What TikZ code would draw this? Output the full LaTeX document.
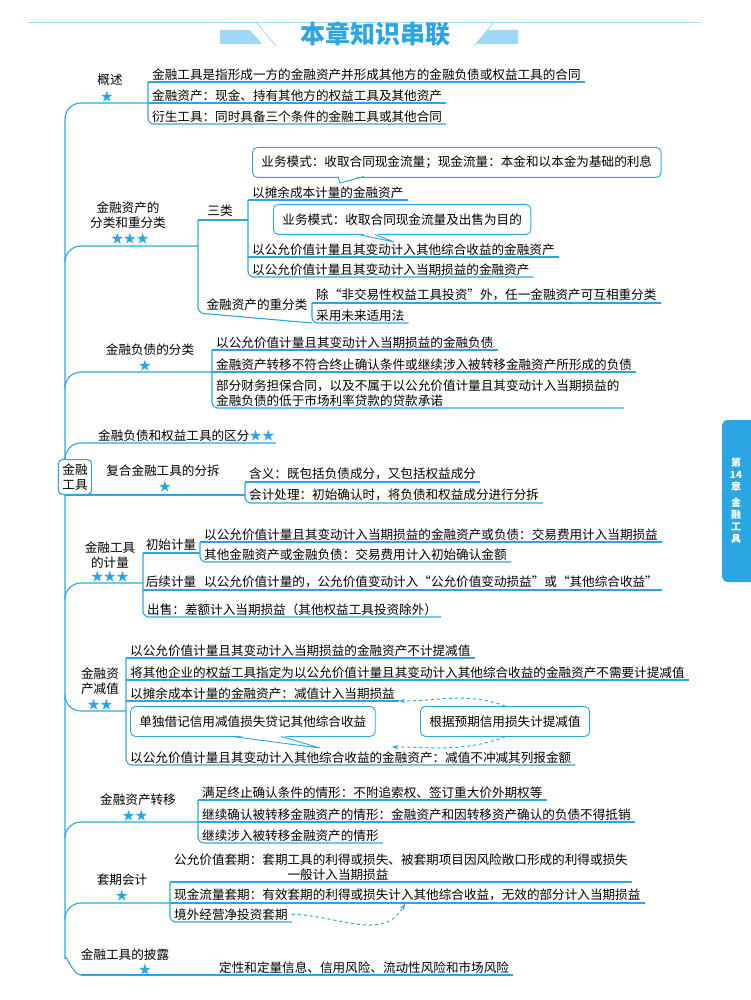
\documentclass[tikz,border=0pt]{standalone}
\usepackage{fontspec}
\setmainfont{Noto Sans CJK SC}
\usetikzlibrary{arrows.meta}
\definecolor{lblue}{HTML}{2AA7E3}
\definecolor{pblue}{HTML}{9ED8F4}
\newcommand{\fs}{\fontsize{12.6}{15}\selectfont}

\begin{document}
\begin{tikzpicture}[x=1pt,y=-1pt]
\tikzset{
  ln/.style={draw=lblue, line width=1.1pt},
  item/.style={font=\fs, anchor=south west, inner xsep=4pt, inner ysep=1.5pt, align=left},
  lbl/.style={font=\fs, inner sep=1pt, align=center},
  star/.style={text=lblue, font=\fs, inner sep=0pt},
  callout/.style={draw=lblue, line width=0.9pt, rounded corners=5pt, fill=white,
                  anchor=north west, font=\fs, inner xsep=9pt, minimum height=30pt},
  dasharrow/.style={draw=lblue, line width=1pt, dashed, -{Stealth[length=6pt]}},
}
\useasboundingbox (0,0) rectangle (750,1000);

% title
\draw[pblue, line width=0.8pt] (28,22) -- (700,22);
\fill[pblue] (220,30) -- (250,30) -- (262,44) -- (220,44) -- cycle;
\draw[pblue, line width=0.8pt] (256,22) -- (276,46);
\fill[pblue] (488,30) -- (518,30) -- (518,44) -- (476,44) -- cycle;
\draw[pblue, line width=0.8pt] (494,22) -- (474,46);
\node[font=\fontsize{25}{25}\selectfont\bfseries, text=lblue] (title) at (375,34) {本章知识串联};

% side tab
\fill[lblue, rounded corners=6pt] (722,420) rectangle (760,582);
\node[text=white, font=\fontsize{10}{12}\selectfont\bfseries, align=center] (tab) at (736,501)
  {第\\14\\章\\[4pt]金\\融\\工\\具};

% main line
\draw[ln] (65,119) -- (65,959) to[out=90,in=180] (81,975);

% 1 overview
\node[lbl] (t1) at (110,80) {概述};
\node[star] (s1) at (107,97) {★};
\draw[ln] (65,119) to[out=90,in=180] (81,103) -- (148,103);
\node[item] (a1) at (148,82) {金融工具是指形成一方的金融资产并形成其他方的金融负债或权益工具的合同};
\node[item] (a2) at (148,103) {金融资产：现金、持有其他方的权益工具及其他资产};
\node[item] (a3) at (148,124) {衍生工具：同时具备三个条件的金融工具或其他合同};
\foreach \n in {a1,a2} \draw[ln] (\n.south west) -- (\n.south east);
\draw[ln, rounded corners=6pt] (a1.south west) -- (a3.south west) -- (a3.south east);

% 2 classification
\node[lbl] (t2) at (128,215) {金融资产的\\分类和重分类};
\node[star] (s2) at (130,239) {★★★};
\draw[ln] (65,262) to[out=90,in=180] (81,246) -- (198,246);
\node[lbl] (t2a) at (220,211) {三类};
\node[item] (b1) at (248,200) {以摊余成本计量的金融资产};
\node[item] (b2) at (248,257) {以公允价值计量且其变动计入其他综合收益的金融资产};
\node[item] (b3) at (248,277) {以公允价值计量且其变动计入当期损益的金融资产};
\foreach \n in {b1,b2} \draw[ln] (\n.south west) -- (\n.south east);
\draw[ln, rounded corners=6pt] (b1.south west) -- (b3.south west) -- (b3.south east);
\node[lbl] (t2b) at (257,305) {金融资产的重分类};
\node[item] (c1) at (312,303) {除“非交易性权益工具投资”外，任一金融资产可互相重分类};
\node[item] (c2) at (312,323) {采用未来适用法};
\draw[ln] (c1.south west) -- (c1.south east);
\draw[ln, rounded corners=6pt] (c1.south west) -- (c2.south west) -- (c2.south east);
\draw[ln, rounded corners=6pt] (198,220) -- (248,220);
\draw[ln, rounded corners=6pt] (198,220) -- (198,313) -- (c2.south west);
\node[callout] (k1) at (252,147) {业务模式：收取合同现金流量；现金流量：本金和以本金为基础的利息};
\fill[white] (338,175) -- (340,183) -- (364,175) -- cycle;
\draw[lblue, line width=0.9pt] (338,176.5) -- (340,183) -- (364,176.5);
\node[callout] (k2) at (273,204) {业务模式：收取合同现金流量及出售为目的};
\fill[white] (358,233) -- (394,242) -- (375,233) -- cycle;
\draw[lblue, line width=0.9pt] (358,234.5) -- (394,242) -- (375,234.5);

% 3 liabilities
\node[lbl] (t3) at (150,350) {金融负债的分类};
\node[star] (s3) at (145,366) {★};
\draw[ln] (65,388) to[out=90,in=180] (81,372) -- (212,372);
\node[item] (d1) at (212,350) {以公允价值计量且其变动计入当期损益的金融负债};
\node[item] (d2) at (212,372) {金融资产转移不符合终止确认条件或继续涉入被转移金融资产所形成的负债};
\node[item] (d3) at (212,408) {部分财务担保合同，以及不属于以公允价值计量且其变动计入当期损益的\\金融负债的低于市场利率贷款的贷款承诺};
\foreach \n in {d1,d2} \draw[ln] (\n.south west) -- (\n.south east);
\draw[ln, rounded corners=6pt] (d1.south west) -- (d3.south west) -- (d3.south east);

% 4 distinction
\node[item, inner xsep=1pt] (t4) at (97,443) {金融负债和权益工具的区分\textcolor{lblue}{★★}};
\draw[ln] (65,459) to[out=90,in=180] (81,443) -- (t4.south east);

% 5 compound
\node[lbl] (t5) at (163,471) {复合金融工具的分拆};
\node[star] (s5) at (165,487) {★};
\draw[ln] (65,495) -- (245,495);
\node[item] (e1) at (245,482) {含义：既包括负债成分，又包括权益成分};
\node[item] (e2) at (245,503) {会计处理：初始确认时，将负债和权益成分进行分拆};
\draw[ln] (e1.south west) -- (e1.south east);
\draw[ln, rounded corners=6pt] (e1.south west) -- (e2.south west) -- (e2.south east);
\node[draw=lblue, line width=1.1pt, fill=white, rounded corners=4pt, lbl, inner sep=4pt] (root) at (75,477) {金融\\工具};

% 6 measurement
\node[lbl] (t6) at (110,555) {金融工具\\的计量};
\node[star] (s6) at (110,577) {★★★};
\draw[ln] (65,599) to[out=90,in=180] (81,583) -- (143,583);
\node[lbl] (t6a) at (171,545) {初始计量};
\node[item] (f1) at (200,542) {以公允价值计量且其变动计入当期损益的金融资产或负债：交易费用计入当期损益};
\node[item] (f2) at (200,562) {其他金融资产或金融负债：交易费用计入初始确认金额};
\draw[ln] (f1.south west) -- (f1.south east);
\draw[ln, rounded corners=6pt] (f1.south west) -- (f2.south west) -- (f2.south east);
\node[lbl] (t6b) at (171,582) {后续计量};
\node[item] (f3) at (200,590) {以公允价值计量的，公允价值变动计入“公允价值变动损益”或“其他综合收益”};
\node[item] (f4) at (143,617) {出售：差额计入当期损益（其他权益工具投资除外）};
\draw[ln] (143,553) -- (200,553);
\draw[ln] (143,590) -- (f3.south east);
\draw[ln, rounded corners=6pt] (143,553) -- (f4.south west) -- (f4.south east);

% 7 impairment
\node[lbl] (t7) at (100,681) {金融资\\产减值};
\node[star] (s7) at (100,705) {★★};
\draw[ln] (65,695) to[out=-90,in=180] (81,711) -- (126,711);
\node[item] (g1) at (126,658) {以公允价值计量且其变动计入当期损益的金融资产不计提减值};
\node[item] (g2) at (126,680) {将其他企业的权益工具指定为以公允价值计量且其变动计入其他综合收益的金融资产不需要计提减值};
\node[item] (g3) at (126,701) {以摊余成本计量的金融资产：减值计入当期损益};
\node[item] (g4) at (126,765) {以公允价值计量且其变动计入其他综合收益的金融资产：减值不冲减其列报金额};
\foreach \n in {g1,g2,g3} \draw[ln] (\n.south west) -- (\n.south east);
\draw[ln, rounded corners=6pt] (g1.south west) -- (g4.south west) -- (g4.south east);
\node[callout] (k3) at (130,706) {单独借记信用减值损失贷记其他综合收益};
\fill[white] (232,735) -- (320,748) -- (281,735) -- cycle;
\draw[lblue, line width=0.9pt] (232,736.5) -- (320,748) -- (281,736.5);
\node[callout] (k4) at (420,706) {根据预期信用损失计提减值};
\draw[dasharrow] (k4.north) to[out=160,in=0] (g3.south east);
\draw[dasharrow] (k4.south) to[out=200,in=0] (392,747);

% 8 transfer
\node[lbl] (t8) at (138,800) {金融资产转移};
\node[star] (s8) at (135,816) {★★};
\draw[ln] (65,838) to[out=90,in=180] (81,822) -- (198,822);
\node[item] (h1) at (198,800) {满足终止确认条件的情形：不附追索权、签订重大价外期权等};
\node[item] (h2) at (198,822) {继续确认被转移金融资产的情形：金融资产和因转移资产确认的负债不得抵销};
\node[item] (h3) at (198,843) {继续涉入被转移金融资产的情形};
\foreach \n in {h1,h2} \draw[ln] (\n.south west) -- (\n.south east);
\draw[ln, rounded corners=6pt] (h1.south west) -- (h3.south west) -- (h3.south east);

% 9 hedging
\node[lbl] (t9) at (122,880) {套期会计};
\node[star] (s9) at (122,896) {★};
\draw[ln] (65,919) to[out=90,in=180] (81,903) -- (170,903);
\node[item] (i1) at (170,882) {公允价值套期：套期工具的利得或损失、被套期项目因风险敞口形成的利得或损失\\\hspace*{9em}一般计入当期损益};
\node[item] (i2) at (170,903) {现金流量套期：有效套期的利得或损失计入其他综合收益，无效的部分计入当期损益};
\node[item] (i3) at (170,922) {境外经营净投资套期};
\foreach \n in {i1,i2} \draw[ln] (\n.south west) -- (\n.south east);
\draw[ln, rounded corners=6pt] (i1.south west) -- (i3.south west) -- (i3.south east);
\draw[dasharrow] (i3.east) to[out=0,in=240] (405,904);

% 10 disclosure
\node[lbl] (t10) at (125,955) {金融工具的披露};
\node[star] (s10) at (145,970) {★};
\node[item] (j1) at (215,975) {定性和定量信息、信用风险、流动性风险和市场风险};
\draw[ln] (81,975) -- (j1.south east);
\end{tikzpicture}
\end{document}
